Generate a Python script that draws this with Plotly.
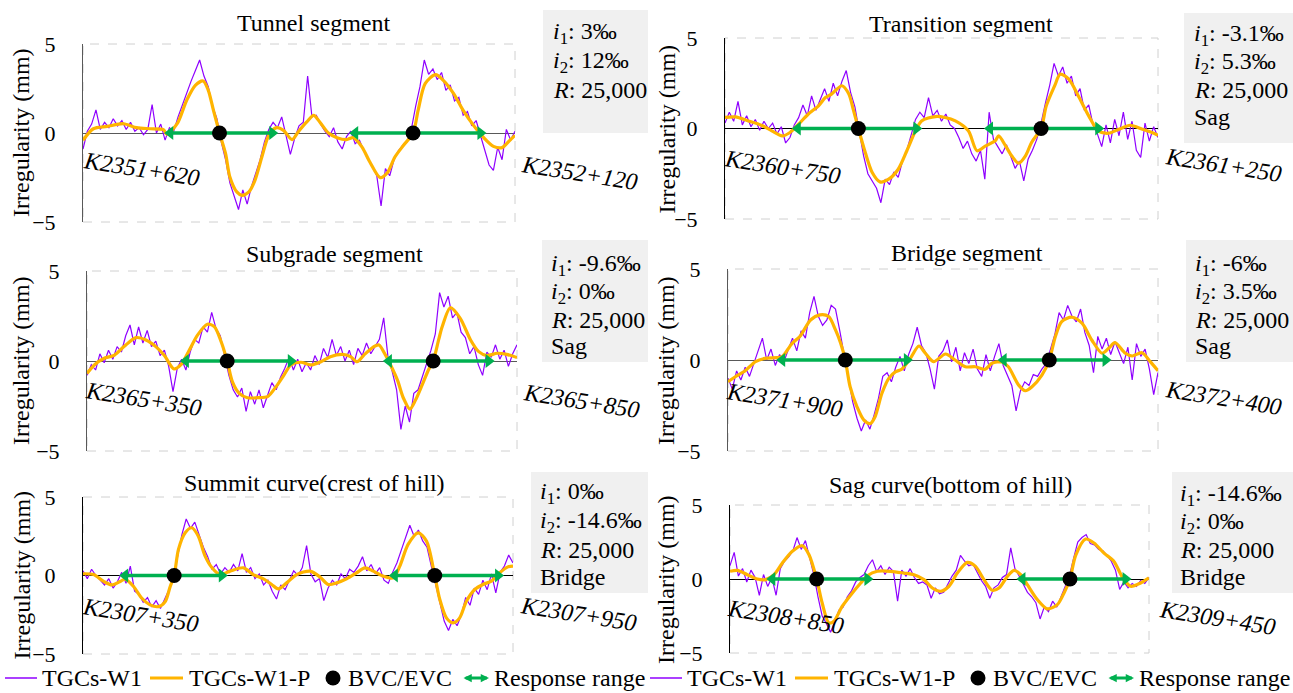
import plotly.graph_objects as go

W, H = 1293, 693
SERIF = "Liberation Serif"
PURPLE = "#8f00ff"
ORANGE = "#ffb400"
GREEN = "#00b050"
BOXFILL = "#f0f0f0"

# ---------------- data (metres from segment start, irregularity in mm) ----------------
station = [5 * k for k in range(101)]

tunnel_raw = [
    -0.9, 0.1, 0.5, 1.3, 0.2, 0.6, 0.3, 0.8, 0.4, 0.7,
    0.2, 0.6, 0.1, 0.3, -0.1, 0.2, 1.6, 0.0, 0.5, -0.4,
    0.3, 0.1, 0.9, 1.6, 2.3, 2.9, 3.5, 4.1, 3.2, 2.6,
    1.5, 0.8, -0.5, -1.5, -2.8, -3.6, -4.3, -3.2, -4.0, -3.0,
    -2.2, -1.5, -0.5, 0.2, 0.6, 0.3, 0.9, -0.2, -1.2, -0.3,
    0.4, 0.6, 3.2, 0.9, 1.0, 0.5, 0.1, -0.2, 0.3, -0.5,
    -0.9, -0.2, 0.1, -0.6, -0.4, -1.0, -1.5, -1.9, -2.4, -4.1,
    -2.0, -2.4, -1.5, -1.0, -0.7, -0.5, 0.2, 1.5, 2.6, 4.1,
    3.3, 3.6, 3.0, 3.4, 2.4, 2.7, 1.8, 2.0, 1.0, 1.2,
    0.4, 0.7, -0.1, -1.0, -1.8, -2.1, -0.8, -1.5, 0.2, -0.4,
    0.1]
tunnel_fit_x = [0, 12, 28, 47, 62, 78, 93, 97, 109, 120, 130, 139, 145, 151, 158, 165, 170, 178,
                184, 192, 199, 207, 215, 224, 232, 242, 249, 259, 267, 274, 284, 294, 305, 313,
                323, 332, 344, 352, 361, 371, 382, 388, 396, 408, 417, 429, 440, 452, 463, 475,
                485, 494, 500]
tunnel_fit_y = [-0.41, 0.24, 0.37, 0.52, 0.30, 0.24, 0.19, -0.07, 0.52, 1.84, 2.68, 2.92, 2.40,
                1.27, 0.0, -1.16, -2.47, -3.31, -3.50, -3.31, -2.66, -1.35, -0.13, 0.30, 0.15,
                -0.37, 0.06, 0.62, 0.99, 0.62, 0.0, -0.26, -0.37, -0.26, -0.79, -1.63, -2.51,
                -2.25, -1.35, -0.69, 0.0, 1.30, 2.77, 3.28, 2.96, 2.21, 1.27, 0.43, -0.22, -0.75,
                -0.82, -0.41, -0.13]
tunnel_bvc_evc = [158, 382]
tunnel_range_from = [101, 315]
tunnel_range_to = [219, 460]

transition_raw = [
    0.3, 0.9, 0.4, 1.5, 0.2, 0.7, 0.1, 0.5, -0.1, 0.4,
    0.0, 0.3, -0.3, 0.1, -0.8, -0.5, 0.2, 0.6, 1.3, 0.7,
    1.8, 1.0, 1.6, 2.2, 1.5, 2.5, 1.8, 2.6, 3.2, 2.0,
    1.2, -0.2, -1.5, -2.5, -2.9, -3.3, -4.1, -2.8, -3.1, -2.4,
    -2.7, -1.8, -1.2, -0.3, 0.5, 0.9, 0.6, 1.7, 0.7, 1.0,
    0.4, 0.8, 0.2, 0.0, -0.5, -1.1, -0.7, -1.4, -1.8, -1.2,
    -2.8, 0.9, -0.6, -1.0, -1.4, -0.9, -1.6, -2.2, -1.8, -2.9,
    -1.7, -1.2, -0.6, 0.3, 1.4, 2.4, 3.6, 2.9, 3.4, 2.5,
    2.9, 1.8, 2.2, 1.0, 1.3, 0.2, -0.3, -1.0, 0.2, -0.8,
    0.5, -0.4, 0.9, -0.6, 0.4, -1.2, -1.6, 0.3, -0.7, 0.1,
    -0.5]
transition_fit_x = [0, 12, 27, 42, 54, 66, 75, 85, 96, 108, 116, 123, 135, 143, 148, 154, 162, 170,
                    179, 189, 200, 210, 220, 227, 243, 254, 266, 281, 291, 301, 312, 316, 324, 331,
                    339, 347, 354, 365, 371, 381, 387, 397, 408, 420, 431, 443, 455, 468, 482, 493,
                    500]
transition_fit_y = [0.61, 0.64, 0.42, 0.18, -0.13, -0.41, -0.22, 0.24, 0.79, 1.25, 1.71, 1.90, 2.36,
                    1.90, 1.07, 0.0, -1.33, -2.43, -2.95, -2.80, -2.25, -1.23, -0.13, 0.42, 0.66,
                    0.61, 0.42, -0.13, -1.23, -0.96, -0.68, -0.41, -0.96, -1.51, -1.92, -1.51,
                    -0.77, 0.0, 1.25, 2.40, 3.00, 2.73, 1.80, 0.70, -0.13, -0.26, -0.04, 0.18,
                    -0.04, -0.22, -0.37]
transition_bvc_evc = [154, 365]
transition_range_from = [84, 306]
transition_range_to = [221, 431]

subgrade_raw = [
    -0.8, -0.2, -0.5, 0.4, -0.1, 0.6, 0.1, 0.8, 0.5, 1.4,
    2.0, 0.9, 1.9, 1.0, 1.7, 0.8, 1.1, 0.3, 0.6, -0.3,
    -1.7, -0.4, 0.1, -0.5, 0.5, 1.2, 1.0, 1.9, 1.6, 2.7,
    1.8, 1.4, 0.3, -0.8, -1.6, -2.0, -1.5, -2.8, -1.7, -2.4,
    -1.6, -2.6, -1.9, -1.2, -1.6, -0.9, -0.4, 0.2, -0.5, 0.1,
    -0.6, -0.1, -0.5, 0.3, -0.2, 0.7, 0.2, 1.2, 0.3, 0.8,
    0.0, 0.6, -0.2, 0.7, 0.3, 1.0, 0.4, 0.8, 1.2, 2.4,
    0.2, -0.6, -1.6, -3.8, -2.5, -3.4, -1.8, -1.6, -0.9, -0.2,
    0.6, 1.5, 3.8, 3.0, 3.6, 2.4, 2.7, 1.6, 1.3, 0.4,
    0.8, -0.2, -0.8, 0.5, 0.2, 0.9, 0.1, 0.6, -0.3, 0.4,
    0.9]
subgrade_fit_x = [0, 8.5, 20, 32, 43, 57, 68.5, 80, 90, 101, 109, 119, 128.5, 140, 148, 156, 163,
                  169, 177, 186.5, 198, 210, 219, 229, 237, 248.5, 260, 272, 283, 297, 306.5, 314,
                  322, 333.5, 339.5, 347, 353, 361, 368, 375.5, 382, 390, 397, 402.5, 409, 413,
                  422.5, 434, 446, 455.5, 465, 477, 488, 500]
subgrade_fit_y = [-0.69, -0.22, 0.15, 0.33, 0.80, 1.30, 1.17, 0.80, 0.30, -0.44, -0.22, 0.61, 1.44,
                  2.04, 1.91, 1.07, 0.0, -1.15, -1.80, -2.04, -2.04, -1.98, -1.48, -0.78, -0.22,
                  -0.07, -0.22, -0.04, 0.24, 0.37, 0.24, -0.04, 0.33, 0.80, 0.89, 0.33, -0.22,
                  -1.06, -2.07, -2.67, -2.17, -1.30, -0.50, 0.0, 1.20, 1.90, 2.96, 2.37, 1.17,
                  0.52, 0.30, 0.43, 0.37, 0.19]
subgrade_bvc_evc = [163, 402.5]
subgrade_range_from = [115, 351]
subgrade_range_to = [237, 467]

bridge_raw = [
    -1.0, -1.6, -0.6, -1.1, -0.4, -0.9, -0.2, 0.5, 1.2, 0.0,
    0.6, -0.3, 0.3, -0.1, 0.6, 1.2, 0.5, 1.6, 1.2, 2.6,
    3.5, 2.4, 1.9, 2.2, 3.0, 2.8, 1.6, 0.3, -1.2, -2.3,
    -3.2, -3.9, -3.3, -3.8, -3.0, -2.1, -0.9, -0.7, -1.2, -0.4,
    0.2, -0.6, 0.3, 0.9, 1.8, 0.8, 0.4, -0.5, -1.6, 0.2,
    0.5, 1.1, -0.1, 0.7, -0.6, 0.4, -0.2, 0.6, -0.5, -0.9,
    0.3, -0.6, 0.2, 0.9, -0.3, -0.9, -1.4, -2.8, -1.7, -1.2,
    -1.4, -0.8, -0.9, -0.5, -0.2, 0.6, 1.4, 2.6, 2.2, 3.0,
    2.4, 2.1, 2.8, 1.5, 0.8, -0.7, 1.3, 0.6, 1.2, 0.3,
    1.0, 0.4, -0.2, 0.7, -1.1, 0.9, 0.2, 0.6, -0.5, -1.9,
    -0.7]
bridge_fit_x = [0, 8.5, 20, 32, 43, 57, 63, 74, 84, 96, 107, 117, 125, 131, 136.4, 142, 150, 158,
                165.5, 171, 179, 187, 195, 202, 212, 222, 229.5, 239, 253, 264, 276, 287.5, 299,
                307, 318.5, 326, 338, 345.7, 353.5, 365, 373.6, 380.6, 388, 400, 411.6, 423, 435,
                442.6, 450, 462, 470, 481.4, 491, 500]
bridge_fit_y = [-1.19, -0.92, -0.59, -0.09, 0.09, 0.13, 0.18, 0.88, 1.32, 2.20, 2.48, 2.39, 1.65,
                0.92, 0.0, -1.47, -2.57, -3.30, -3.49, -3.12, -1.83, -1.01, -0.64, -0.51, 0.09,
                0.77, 0.37, -0.09, 0.33, 0.0, -0.37, -0.37, -0.51, -0.18, -0.11, -0.37, -1.38,
                -1.69, -1.47, -0.83, 0.0, 1.28, 2.11, 2.35, 2.02, 1.10, 0.37, 0.64, 0.95, 0.37,
                0.22, 0.40, -0.09, -0.59]
bridge_bvc_evc = [136.4, 373.6]
bridge_range_from = [63, 320.5]
bridge_range_to = [208, 439]

summit_raw = [
    0.3, -0.2, 0.4, 0.0, -0.3, -0.6, -0.2, -0.8, -0.4, 0.2,
    -0.5, 0.6, -1.0, -1.2, -1.7, -1.4, -2.0, -1.6, -2.1, -1.5,
    -0.9, -0.3, 1.2, 2.6, 3.6, 3.0, 3.4, 2.6, 1.8, 1.2,
    0.4, 0.7, 0.1, 0.5, 0.2, 0.7, 0.3, 1.4, 0.2, 0.5,
    -0.2, 0.1, -0.6, -0.3, -1.0, -1.5, -0.6, -0.9, -0.3, 0.3,
    0.0, 0.5, 1.9, 0.1, -0.4, -0.2, -1.6, -0.8, -0.3, -0.6,
    0.1, -0.2, 0.4, 0.2, 0.6, 1.2, 0.3, 0.7, 0.1, 0.5,
    -0.3, -0.5, 0.2, 0.8, 1.6, 2.4, 3.2, 2.5, 2.9, 2.2,
    1.8, 0.6, -0.6, -1.8, -2.9, -3.5, -2.8, -3.2, -2.5, -1.4,
    -1.9, -0.8, -1.2, -0.3, -0.9, 0.1, -1.1, 0.2, 0.6, 1.3,
    0.8]
summit_fit_x = [0, 12.4, 24, 33.7, 43.3, 49, 58.8, 68.5, 78, 87.8, 95.6, 101.4, 106, 111, 118.8,
                126.5, 134, 142, 150, 159.4, 171, 186.5, 198, 209.8, 219.4, 227, 236.8, 248.5,
                264, 275.5, 285, 295, 306.5, 318, 327.8, 337.5, 349, 360.7, 368.4, 378, 389.7,
                399.4, 409, 414.9, 422.6, 430.3, 438, 445.8, 455.5, 465, 474.8, 484.5, 494, 500]
summit_fit_y = [0.11, 0.06, -0.38, -0.60, -0.38, -0.23, -0.70, -1.45, -1.87, -1.98, -1.66, -0.70,
                0.0, 1.66, 2.72, 3.04, 2.51, 1.23, 0.49, 0.06, 0.28, 0.49, 0.06, -0.21, -0.57,
                -0.85, -0.47, 0.06, 0.28, -0.09, -0.57, -0.47, -0.21, 0.17, 0.49, 0.28, -0.04,
                -0.15, 0.60, 1.98, 2.72, 2.19, 0.0, -1.53, -2.70, -3.02, -2.70, -1.64, -0.89,
                -0.57, -0.36, 0.17, 0.55, 0.60]
summit_bvc_evc = [106, 409]
summit_range_from = [49, 362.6]
summit_range_to = [161.4, 482.6]

sag_raw = [
    0.9, 1.8, 0.2, 0.7, -0.2, 0.6, 0.1, -1.1, 0.3, -0.5,
    0.1, -1.1, 0.7, 1.2, 1.5, 1.9, 2.8, 2.0, 2.6, 1.5,
    0.3, -1.2, -2.5, -3.0, -3.6, -2.9, -2.1, -1.9, -1.2, -0.8,
    -0.2, 0.1, 0.3, 0.9, 1.3, 0.5, 0.9, 0.3, 0.8, 0.5,
    -1.5, 0.6, 0.2, 0.7, 0.1, -0.3, -0.2, -0.4, -1.3, -0.6,
    -1.0, -0.9, -0.3, 0.2, 0.6, 1.6, 1.2, 0.9, 1.0, 0.4,
    -0.1, -0.5, -1.3, -0.6, -0.4, 0.1, 0.3, 2.1, 0.7, 0.2,
    -0.3, -0.9, -1.2, -1.6, -2.7, -1.9, -2.2, -1.5, -1.9, -1.2,
    -0.6, 0.2, 1.4, 2.5, 2.8, 3.0, 2.4, 2.3, 2.0, 1.9,
    1.6, 1.2, 0.6, -0.7, -0.2, -0.6, -0.3, -0.5, -0.1, -0.3,
    0.1]
sag_fit_x = [0, 8.8, 20.7, 32.6, 42.6, 52.5, 62.5, 74.4, 86.3, 94.3, 103.4, 110, 118, 124, 134,
             146, 156, 164, 175.8, 191.7, 207.6, 219.6, 231.5, 241.4, 251.4, 261.3, 271.3, 283.2,
             293, 303, 313, 321, 331, 339, 346.9, 354.8, 366.7, 378.7, 390.6, 398.6, 405.7,
             412.5, 424.4, 434.4, 446.3, 458.2, 468.2, 478, 490, 500]
sag_fit_y = [0.52, 0.58, 0.29, 0.0, -0.04, 0.29, 1.08, 1.87, 2.25, 1.64, 0.0, -1.62, -2.97, -2.85,
             -1.84, -0.94, -0.27, 0.22, 0.52, 0.52, 0.40, 0.29, -0.04, -0.61, -0.83, -0.49, 0.40,
             1.12, 0.85, -0.04, -0.76, -0.61, 0.18, 0.58, 0.29, -0.38, -1.39, -2.02, -1.73,
             -0.94, 0.0, 1.60, 2.70, 2.43, 1.75, 1.19, 0.13, -0.49, -0.27, 0.07]
sag_bvc_evc = [103.4, 405.7]
sag_range_from = [50.5, 349]
sag_range_to = [164, 472]

titles = ["Tunnel segment", "Transition segment", "Subgrade segment", "Bridge segment",
          "Summit curve(crest of hill)", "Sag curve(bottom of hill)"]
start_marks = ["K2351+620", "K2360+750", "K2365+350", "K2371+900", "K2307+350", "K2308+850"]
end_marks = ["K2352+120", "K2361+250", "K2365+850", "K2372+400", "K2307+950", "K2309+450"]
grade_i1 = ["3‰", "-3.1‰", "-9.6‰", "-6‰", "0‰", "-14.6‰"]
grade_i2 = ["12‰", "5.3‰", "0‰", "3.5‰", "-14.6‰", "0‰"]
radius = ["25,000"] * 6
curve_note = ["", "Sag", "Sag", "Sag", "Bridge", "Bridge"]
y_ticks = [-5, 0, 5]
legend_names = ["TGCs-W1", "TGCs-W1-P", "BVC/EVC", "Response range"]

series = [
    (tunnel_raw, tunnel_fit_x, tunnel_fit_y, tunnel_bvc_evc, tunnel_range_from, tunnel_range_to),
    (transition_raw, transition_fit_x, transition_fit_y, transition_bvc_evc, transition_range_from, transition_range_to),
    (subgrade_raw, subgrade_fit_x, subgrade_fit_y, subgrade_bvc_evc, subgrade_range_from, subgrade_range_to),
    (bridge_raw, bridge_fit_x, bridge_fit_y, bridge_bvc_evc, bridge_range_from, bridge_range_to),
    (summit_raw, summit_fit_x, summit_fit_y, summit_bvc_evc, summit_range_from, summit_range_to),
    (sag_raw, sag_fit_x, sag_fit_y, sag_bvc_evc, sag_range_from, sag_range_to),
]

# ---------------- layout geometry (pixels) ----------------
geo = [
    dict(x0=83, x1=515, y0=44, y1=222, title=(313, 23), ytx=21, start=(141, 169), end=(579, 173),
         box=(543, 648, 10, 133), tx=551, ty=[33, 62, 90], zc="#595959"),
    dict(x0=725, x1=1158, y0=38, y1=219, title=(961, 24), ytx=666, start=(782, 167), end=(1223, 165),
         box=(1184, 1293, 13, 143), tx=1192, ty=[35, 63, 90, 117], zc="#000000"),
    dict(x0=87, x1=517, y0=271, y1=451, title=(334, 254), ytx=21, start=(143, 399), end=(581, 401),
         box=(542, 648, 240, 362), tx=549, ty=[265, 293, 320, 346], zc="#595959"),
    dict(x0=728, x1=1158, y0=269, y1=451, title=(967, 253), ytx=666, start=(784, 400), end=(1223, 398),
         box=(1186, 1293, 240, 362), tx=1193, ty=[265, 293, 320, 346], zc="#595959"),
    dict(x0=83, x1=513, y0=497, y1=654, title=(314, 483), ytx=21, start=(140, 615), end=(578, 614),
         box=(531, 648, 472, 593), tx=538, ty=[493, 522, 550, 577], zc="#000000"),
    dict(x0=730, x1=1149, y0=505, y1=653, title=(950, 485), ytx=666, start=(786, 617), end=(1217, 618),
         box=(1172, 1293, 472, 593), tx=1178, ty=[495, 523, 550, 577], zc="#000000"),
]


def px(x):
    return x / W


def py(y):
    return 1 - y / H


fig = go.Figure()
annotations = []
shapes = []
layout_axes = {}

for i, (raw, fx, fy, dots, rfrom, rto) in enumerate(series):
    g = geo[i]
    n = "" if i == 0 else str(i + 1)
    xa, ya = "x" + n, "y" + n
    fig.add_trace(go.Scatter(x=station, y=raw, mode="lines", xaxis=xa, yaxis=ya,
                             line=dict(color=PURPLE, width=1.2), showlegend=False))
    fig.add_trace(go.Scatter(x=fx, y=fy, mode="lines", xaxis=xa, yaxis=ya,
                             line=dict(color=ORANGE, width=3.2, shape="spline", smoothing=0.8),
                             showlegend=False))
    for a, b in zip(rfrom, rto):
        fig.add_trace(go.Scatter(x=[a, b], y=[0, 0], mode="lines+markers", xaxis=xa, yaxis=ya,
                                 line=dict(color=GREEN, width=3.5),
                                 marker=dict(symbol=["triangle-left", "triangle-right"], size=12,
                                             color=GREEN),
                                 showlegend=False))
    fig.add_trace(go.Scatter(x=dots, y=[0] * len(dots), mode="markers", xaxis=xa, yaxis=ya,
                             marker=dict(color="black", size=15), showlegend=False))

    layout_axes["xaxis" + n] = dict(domain=[px(g["x0"]), px(g["x1"])], range=[0, 500], visible=False,
                                    anchor=ya, fixedrange=True)
    layout_axes["yaxis" + n] = dict(domain=[py(g["y1"]), py(g["y0"])], range=[-5, 5], tickvals=y_ticks,
                                    showgrid=False, zeroline=True, zerolinecolor=g["zc"],
                                    zerolinewidth=1, showline=True, linecolor=g["zc"], linewidth=1,
                                    ticks="", ticklabelstandoff=22, automargin=False,
                                    tickfont=dict(family=SERIF, size=22, color="black"),
                                    anchor=xa, fixedrange=True)
    # dashed frame
    shapes.append(dict(type="rect", xref=xa + " domain", yref=ya + " domain", x0=0, x1=1, y0=0, y1=1,
                       line=dict(color="#d0d0d0", width=1, dash="dash"), layer="below"))
    # info box
    bx0, bx1, by0, by1 = g["box"]
    shapes.append(dict(type="rect", xref="paper", yref="paper", x0=px(bx0), x1=px(bx1),
                       y0=py(by1), y1=py(by0), fillcolor=BOXFILL, line=dict(width=0), layer="below"))
    lines = ["<i>i</i><sub>1</sub>: " + grade_i1[i],
             "<i>i</i><sub>2</sub>: " + grade_i2[i],
             "<i>R</i>: " + radius[i]]
    if curve_note[i]:
        lines.append(curve_note[i])
    for txt, yy in zip(lines, g["ty"]):
        annotations.append(dict(text=txt, x=px(g["tx"]), y=py(yy), xref="paper", yref="paper",
                                xanchor="left", yanchor="middle", showarrow=False,
                                font=dict(family=SERIF, size=24, color="black")))
    # title
    annotations.append(dict(text=titles[i], x=px(g["title"][0]), y=py(g["title"][1]), xref="paper",
                            yref="paper", xanchor="center", yanchor="middle", showarrow=False,
                            font=dict(family=SERIF, size=24, color="black")))
    # y title
    annotations.append(dict(text="Irregularity (mm)", x=px(g["ytx"]), y=py((g["y0"] + g["y1"]) / 2),
                            xref="paper", yref="paper", xanchor="center", yanchor="middle",
                            textangle=-90, showarrow=False,
                            font=dict(family=SERIF, size=24, color="black")))
    # start / end chainage
    for txt, (cx, cy) in ((start_marks[i], g["start"]), (end_marks[i], g["end"])):
        annotations.append(dict(text=txt, x=px(cx), y=py(cy), xref="paper",
                                yref="paper", xanchor="center", yanchor="middle", textangle=9,
                                showarrow=False,
                                font=dict(family=SERIF, size=24, color="black", style="italic")))

# ---------------- manual legends under the bottom panels ----------------
LEG_Y = 678
for off in (0, 645):
    shapes.append(dict(type="line", xref="paper", yref="paper", x0=px(off + 5), x1=px(off + 37),
                       y0=py(LEG_Y), y1=py(LEG_Y), line=dict(color=PURPLE, width=1.5)))
    shapes.append(dict(type="line", xref="paper", yref="paper", x0=px(off + 150), x1=px(off + 183),
                       y0=py(LEG_Y), y1=py(LEG_Y), line=dict(color=ORANGE, width=3.2)))
    shapes.append(dict(type="circle", xref="paper", yref="paper", x0=px(off + 325.5), x1=px(off + 340.5),
                       y0=py(LEG_Y + 7.5), y1=py(LEG_Y - 7.5), fillcolor="black",
                       line=dict(color="black", width=0)))
    annotations.append(dict(text="", x=px(off + 489), y=py(LEG_Y), xref="paper", yref="paper",
                            ax=-27, ay=0, showarrow=True, arrowhead=2, arrowside="end+start",
                            arrowsize=0.55, arrowwidth=3, arrowcolor=GREEN))
    for txt, lx in zip(legend_names, (40, 187, 346, 492)):
        annotations.append(dict(text=txt, x=px(off + lx), y=py(LEG_Y), xref="paper", yref="paper",
                                xanchor="left", yanchor="middle", showarrow=False,
                                font=dict(family=SERIF, size=24, color="black")))

fig.update_layout(template="none", width=W, height=H, margin=dict(l=0, r=0, t=0, b=0),
                  paper_bgcolor="white", plot_bgcolor="rgba(0,0,0,0)", showlegend=False,
                  font=dict(family=SERIF, size=22, color="black"),
                  annotations=annotations, shapes=shapes, **layout_axes)

fig.write_html("out.html", config={"displayModeBar": False},
               post_script="document.body.style.margin='0px';document.body.style.padding='0px';")
